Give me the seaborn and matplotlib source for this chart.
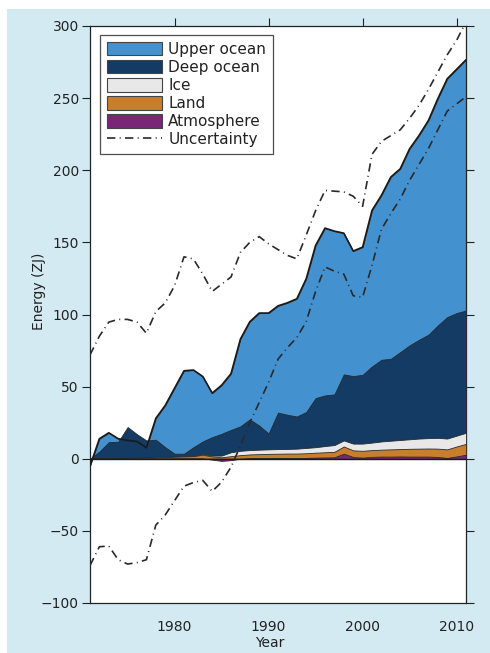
import numpy as np
import matplotlib
matplotlib.use("Agg")
import matplotlib.pyplot as plt
from matplotlib.patches import Patch, Rectangle
from matplotlib.lines import Line2D
import seaborn as sns

# Energy accumulation relative to 1971 (ZJ), one value per year
years = list(range(1971, 2012))

upper_ocean = [-5, 8.9, 6.5, 2.1, -9.3, -5.0, -5.1, 14.8, 29.0, 45.5,
               57.5, 53.5, 45.0, 30.5, 33.7, 39.0, 60.5, 67.7, 78.0, 83.5,
               74.0, 77.6, 81.6, 92.4, 105.8, 116.0, 113.2, 97.9, 86.7, 88.5,
               108.2, 114.0, 126.0, 127.1, 136.3, 141.6, 148.5, 157.2, 165.2, 169.0, 173.8]
deep_ocean = [0, 4.8, 11.1, 11.3, 21.4, 16.3, 11.9, 12.2, 6.8, 2.0,
              1.7, 6.0, 8.8, 12.8, 15.1, 15.5, 17.0, 21.3, 16.7, 11.0,
              25.3, 23.7, 22.3, 24.9, 34.1, 35.1, 35.1, 45.8, 46.8, 47.7,
              52.8, 56.6, 56.8, 60.9, 65.1, 68.5, 71.7, 77.9, 84.2, 85.0, 84.8]
ice = [0, 0.0, 0.1, 0.0, 0.0, 0.0, 0.0, 0.1, 0.1, 0.1,
       0.2, 0.2, 0.4, 0.6, 1.2, 2.7, 3.0, 3.0, 3.1, 3.1,
       3.2, 3.2, 3.4, 3.7, 3.8, 4.3, 4.7, 4.2, 4.7, 5.0,
       5.2, 5.7, 6.0, 6.3, 6.6, 7.0, 7.2, 7.5, 7.5, 7.5, 7.7]
land = [0, 0.2, 0.3, 0.4, 0.5, 0.6, 0.6, 0.7, 0.9, 1.1,
        1.3, 1.5, 2.6, 2.2, 2.5, 2.8, 2.5, 2.6, 2.7, 2.9,
        2.9, 3.1, 3.1, 3.2, 3.4, 3.6, 3.8, 5.0, 4.6, 4.7,
        4.7, 4.8, 5.0, 5.1, 5.4, 5.5, 5.6, 5.8, 5.9, 6.9, 7.5]
atmosphere = [0, 0, 0, 0.1, 0.1, 0.1, 0.2, 0.2, 0.2, 0.3,
              0.3, 0.3, 0.2, -0.6, -1.5, -1.0, 0.0, 0.4, 0.5, 0.5,
              0.6, 0.5, 0.5, 0.6, 0.8, 0.9, 1.0, 3.5, 1.2, 0.8,
              1.3, 1.5, 1.5, 1.6, 1.5, 1.5, 1.5, 1.2, 0.6, 1.6, 2.8]

upper_bound = [72, 85, 94.7, 96.6, 96.6, 94.7, 87, 102, 108, 120,
               140, 138.5, 128, 116, 121, 126, 143, 150, 154, 149,
               145, 141, 138.6, 155, 172, 186, 185.5, 185, 182, 175,
               211, 220, 224, 228, 236, 245, 256, 268, 280, 290, 303]
lower_bound = [-74, -61, -60.5, -70, -73, -72, -70, -46, -39, -29,
               -19, -16.5, -15, -22.6, -16.2, -5.8, 9, 25, 39, 53,
               69, 77, 84, 95, 116, 133, 130, 128, 113, 112,
               134, 159, 170, 180, 193, 204, 215, 228, 241, 246, 251]

labels = ["Atmosphere", "Land", "Ice", "Deep ocean", "Upper ocean"]
colors = ["#7a2678", "#c97e2b", "#e8e8e8", "#133b63", "#4391cf"]

sns.set_style("ticks")
plt.rcParams["font.family"] = ["DejaVu Sans"]
plt.rcParams["text.color"] = "#222222"
plt.rcParams["axes.labelcolor"] = "#222222"
plt.rcParams["xtick.color"] = "#222222"
plt.rcParams["ytick.color"] = "#222222"

fig = plt.figure(figsize=(4.9, 6.53), dpi=100)
fig.patch.set_facecolor("white")
fig.patches.append(Rectangle((7 / 490, 0), 1, 1 - 9 / 653, transform=fig.transFigure,
                             facecolor="#d3eaf3", edgecolor="none", zorder=-10))
ax = fig.add_axes([90 / 490, 1 - 603 / 653, 376 / 490, 577 / 653])
ax.set_facecolor("white")

# cumulative tops, each area filled from zero, biggest first
comps = np.array([atmosphere, land, ice, deep_ocean, upper_ocean])
tops = np.cumsum(comps, axis=0)
for i in range(len(labels) - 1, -1, -1):
    ax.fill_between(years, 0, tops[i], facecolor=colors[i], edgecolor="#2a2a2a",
                    linewidth=0.6, zorder=2 + (4 - i))

sns.lineplot(x=years, y=tops[-1], ax=ax, color="#1a1a1a", linewidth=1.2, zorder=8)
ax.axhline(0, color="#1a1a1a", linewidth=1.0, zorder=9)

dashdot = (0, (5, 2.6, 0.6, 2.6))
sns.lineplot(x=years, y=upper_bound, ax=ax, color="#2a2a2a", linewidth=1.2,
             linestyle=dashdot, zorder=10)
sns.lineplot(x=years, y=lower_bound, ax=ax, color="#2a2a2a", linewidth=1.2,
             linestyle=dashdot, zorder=10)

ax.set_xlim(1971, 2011)
ax.set_ylim(-100, 300)
ax.set_xticks([1980, 1990, 2000, 2010])
ax.set_yticks(range(-100, 301, 50))
ax.tick_params(axis="both", labelsize=10, direction="out", length=5.5, width=0.8)
ax.tick_params(axis="y", right=True, pad=2.5)
ax.tick_params(axis="x", top=True, bottom=False, pad=6.5)
for s in ax.spines.values():
    s.set_visible(True)
    s.set_color("#222222")
    s.set_linewidth(0.9)

ax.set_ylabel("Energy (ZJ)", fontsize=10)
ax.yaxis.set_label_coords(-0.117, 0.54)
ax.set_xlabel("Year", fontsize=10)
ax.xaxis.set_label_coords(0.479, -0.058)

handles = [Patch(facecolor=colors[i], edgecolor="#444444", linewidth=0.8, label=labels[i])
           for i in range(len(labels) - 1, -1, -1)]
handles.append(Line2D([], [], color="#2a2a2a", linewidth=1.2, linestyle=dashdot,
                      label="Uncertainty"))
leg = ax.legend(handles=handles, loc="upper left", bbox_to_anchor=(0.027, 0.984),
                borderaxespad=0, fontsize=11, frameon=True, fancybox=False,
                handlelength=3.6, handleheight=0.95, handletextpad=0.4,
                labelspacing=0.2, borderpad=0.45)
leg.get_frame().set_edgecolor("#222222")
leg.get_frame().set_linewidth(0.9)
leg.set_zorder(20)

fig.savefig("out.png", dpi=100, facecolor=fig.get_facecolor())
